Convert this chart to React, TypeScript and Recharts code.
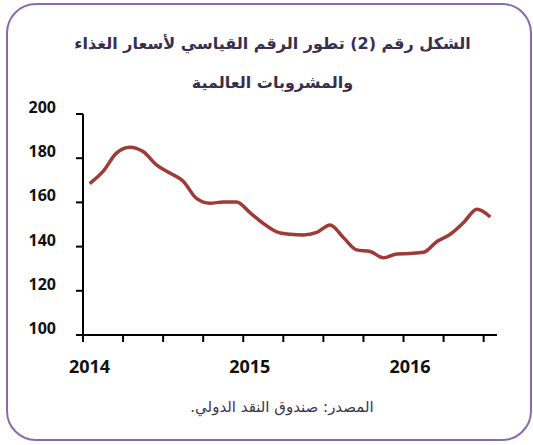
import { LineChart, Line, XAxis, YAxis } from "recharts";

// monthly index, Jan 2014 .. Jul 2016
const months = [
  "2014-01", "2014-02", "2014-03", "2014-04", "2014-05", "2014-06",
  "2014-07", "2014-08", "2014-09", "2014-10", "2014-11", "2014-12",
  "2015-01", "2015-02", "2015-03", "2015-04", "2015-05", "2015-06",
  "2015-07", "2015-08", "2015-09", "2015-10", "2015-11", "2015-12",
  "2016-01", "2016-02", "2016-03", "2016-04", "2016-05", "2016-06",
  "2016-07",
];
const values = [
  168.5, 174, 182.3, 185, 183, 177, 173.3, 169.6, 161.8, 159.6, 160.2, 160.2,
  155.4, 150.5, 146.7, 145.6, 145.3, 146.4, 149.8, 144.1, 138.5, 137.8, 134.9,
  136.7, 136.9, 137.4, 142.3, 145.6, 150.9, 156.9, 153.4,
];
const xTicks = [0, 3, 6, 9, 12, 15, 18, 21, 24, 27, 30];
const yearLabels: Record<number, string> = { 0: "2014", 12: "2015", 24: "2016" };
const yTicks = [100, 120, 140, 160, 180, 200];

const title1 = "الشكل رقم (2) تطور الرقم القياسي لأسعار الغذاء";
const title2 = "والمشروبات العالمية";
const source = "المصدر: صندوق النقد الدولي.";

const data = months.map((m, i) => ({ month: m, t: i + 0.5, v: values[i] }));

const numFont = "'Open Sans', sans-serif";
const arFont = "'DejaVu Sans', sans-serif";

function YearTick(props: any) {
  const { x, payload } = props;
  const label = yearLabels[payload.value];
  if (!label) return null;
  return (
    <text x={x + 6.5} y={373} textAnchor="middle" fontFamily={numFont}
      fontWeight={700} fontSize={18} fill="#111">
      {label}
    </text>
  );
}

function ValueTick(props: any) {
  const { y, payload } = props;
  return (
    <text x={56} y={y - 1} textAnchor="end" fontFamily={numFont}
      fontWeight={700} fontSize={16} fill="#111">
      {payload.value}
    </text>
  );
}

export default function App() {
  return (
    <div style={{ position: "absolute", left: 0, top: 0, width: 533, height: 445, background: "#fff" }}>
      <div style={{
        position: "absolute", left: 6, top: 3, width: 526, height: 438,
        border: "2px solid #8a6aae", borderRadius: 30, boxSizing: "border-box",
      }} />
      <div dir="rtl" style={{
        position: "absolute", left: 0, width: 545, top: 24, textAlign: "center",
        fontFamily: arFont, fontWeight: "bold", fontSize: 16,
        lineHeight: "39px", color: "#3a2e4f",
      }}>
        <div>{title1}</div>
        <div>{title2}</div>
      </div>
      <div style={{ position: "absolute", left: 0, top: 0 }}>
        <LineChart width={533} height={445} data={data}
          margin={{ top: 114, right: 36, bottom: 70, left: 0 }}>
          <XAxis dataKey="t" type="number" domain={[0, 31]} ticks={xTicks}
            height={40} tick={<YearTick />} tickSize={7}
            axisLine={{ stroke: "#000", strokeWidth: 2 }}
            tickLine={{ stroke: "#000", strokeWidth: 2 }} />
          <YAxis type="number" domain={[100, 200]} ticks={yTicks} width={83}
            tickSize={7} tick={<ValueTick />}
            axisLine={{ stroke: "#000", strokeWidth: 2 }}
            tickLine={{ stroke: "#000", strokeWidth: 2 }} />
          <Line dataKey="v" type="monotone" stroke="#a03a37" strokeWidth={3.5}
            dot={false} isAnimationActive={false} />
        </LineChart>
      </div>
      <div dir="rtl" style={{
        position: "absolute", left: 0, width: 564, top: 398, textAlign: "center",
        fontFamily: arFont, fontSize: 15, color: "#3b3350",
      }}>
        {source}
      </div>
    </div>
  );
}
